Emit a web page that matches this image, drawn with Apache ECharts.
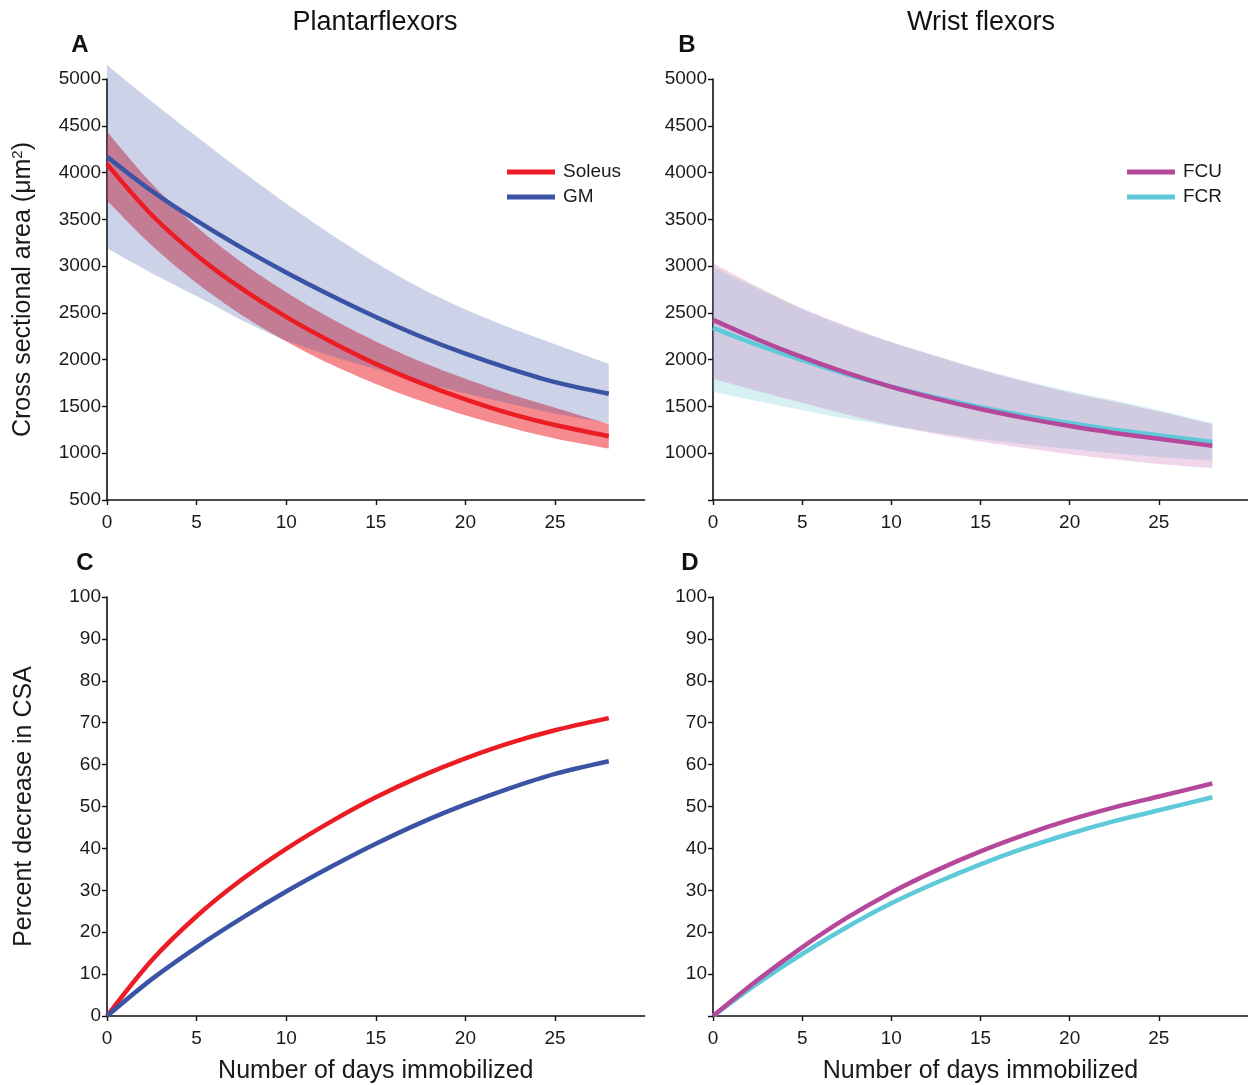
<!DOCTYPE html>
<html>
<head>
<meta charset="utf-8">
<script src="https://cdn.jsdelivr.net/npm/echarts@6/dist/echarts.min.js"></script>
<style>
  html, body { margin: 0; padding: 0; background: #ffffff; }
  #chart { width: 1248px; height: 1085px; }
</style>
</head>
<body>
<div id="chart"></div>
<script>
// ---- Data ----
const days = [0, 2.5, 5, 7.5, 10, 12.5, 15, 17.5, 20, 22.5, 25, 28];
const xTicks = [0, 5, 10, 15, 20, 25];

// Panel A: Plantarflexors CSA (µm²)
const soleusCSA   = [4090, 3546, 3117, 2761, 2458, 2192, 1955, 1751, 1575, 1423, 1301, 1182];
const soleusUpper = [4440, 3880, 3420, 3040, 2720, 2440, 2195, 1980, 1795, 1630, 1485, 1310];
const soleusLower = [3700, 3220, 2820, 2480, 2195, 1950, 1740, 1560, 1405, 1272, 1158, 1050];
const gmCSA       = [4170, 3803, 3486, 3198, 2932, 2685, 2456, 2248, 2064, 1902, 1760, 1635];
const gmUpper     = [5150, 4760, 4385, 4020, 3670, 3340, 3035, 2765, 2535, 2340, 2165, 1955];
const gmLower     = [3190, 2925, 2680, 2425, 2205, 2040, 1900, 1765, 1640, 1528, 1425, 1320];

// Panel B: Wrist flexors CSA (µm²)
const fcuCSA   = [2425, 2216, 2027, 1858, 1710, 1584, 1472, 1375, 1290, 1217, 1154, 1079];
const fcuUpper = [3030, 2780, 2550, 2360, 2190, 2040, 1895, 1765, 1650, 1550, 1445, 1310];
const fcuLower = [1800, 1665, 1540, 1415, 1300, 1205, 1125, 1055, 990, 935, 885, 840];
const fcrCSA   = [2340, 2157, 1994, 1844, 1711, 1596, 1493, 1402, 1322, 1252, 1191, 1120];
const fcrUpper = [2990, 2760, 2540, 2350, 2185, 2040, 1900, 1775, 1665, 1565, 1460, 1325];
const fcrLower = [1660, 1555, 1460, 1370, 1290, 1220, 1155, 1095, 1045, 1000, 960, 920];

// Panel C / D: percent decrease in CSA
const soleusPct = [0, 13.3, 23.8, 32.5, 39.9, 46.4, 52.2, 57.2, 61.5, 65.2, 68.2, 71.1];
const gmPct     = [0, 8.8, 16.4, 23.3, 29.7, 35.6, 41.1, 46.1, 50.5, 54.4, 57.8, 60.8];
const fcuPct    = [0, 8.6, 16.4, 23.4, 29.5, 34.7, 39.3, 43.3, 46.8, 49.8, 52.4, 55.5];
const fcrPct    = [0, 7.8, 14.8, 21.2, 26.9, 31.8, 36.2, 40.1, 43.5, 46.5, 49.1, 52.2];

// ---- Styles ----
const FONT = "'Liberation Sans', Arial, Helvetica, sans-serif";
const C_SOL = '#ec1c24', C_GM = '#3a53a4', C_FCU = '#b5489b', C_FCR = '#5ec9d9';
const SMOOTH = 0.3;

function pairs(ys) { return days.map((d, i) => [d, ys[i]]); }
// band rows are stored as [value, day] so the stacked dimension is the value (y) one
function rowsYX(ys) { return days.map((d, i) => [ys[i], d]); }
function rowsDiffYX(up, lo) { return days.map((d, i) => [up[i] - lo[i], d]); }

function lineSeries(name, ys, color, idx) {
  return {
    name: name, type: 'line', xAxisIndex: idx, yAxisIndex: idx, clip: false,
    data: pairs(ys), smooth: SMOOTH, showSymbol: false, symbol: 'none',
    color: color, lineStyle: { color: color, width: 4.5 }, z: 5, silent: true
  };
}
function bandSeries(key, lo, up, color, idx) {
  return [
    { name: key + '_lo', type: 'line', xAxisIndex: idx, yAxisIndex: idx, stack: key, clip: false,
      encode: { x: 1, y: 0 },
      data: rowsYX(lo), smooth: SMOOTH, symbol: 'none', lineStyle: { opacity: 0, width: 0 }, silent: true, z: 2 },
    { name: key + '_band', type: 'line', xAxisIndex: idx, yAxisIndex: idx, stack: key, clip: false,
      encode: { x: 1, y: 0 },
      data: rowsDiffYX(up, lo), smooth: SMOOTH, symbol: 'none', lineStyle: { opacity: 0, width: 0 },
      areaStyle: { color: color, opacity: 1 }, silent: true, z: 2 }
  ];
}

const grids = [
  { left: 107, top: 79, width: 537.6, height: 421 },
  { left: 713, top: 79, width: 537.6, height: 421 },
  { left: 107, top: 597, width: 537.6, height: 420 },
  { left: 713, top: 597, width: 537.6, height: 420 }
];

const axisLine = { show: true, lineStyle: { color: '#111', width: 1.6 } };
const axisTick = { show: true, length: 5, lineStyle: { color: '#111', width: 1.4 } };
const labelStyle = { color: '#1a1a1a', fontFamily: FONT, fontSize: 19 };

function xAxis(idx, withName) {
  const ax = {
    type: 'value', gridIndex: idx, min: 0, max: 30, interval: 5,
    axisLine: axisLine, splitLine: { show: false },
    axisTick: Object.assign({}, axisTick, { customValues: xTicks }),
    axisLabel: Object.assign({}, labelStyle, { margin: 13, customValues: xTicks,
      formatter: v => (v >= 30 ? '' : String(v)) })
  };
  if (withName) {
    ax.name = 'Number of days immobilized';
    ax.nameLocation = 'middle';
    ax.nameGap = 43;
    ax.nameTextStyle = { fontFamily: FONT, fontSize: 25, color: '#1a1a1a' };
  }
  return ax;
}
function yAxis(idx, min, max, interval, hideMin, name) {
  const ax = {
    type: 'value', gridIndex: idx, min: min, max: max, interval: interval,
    axisLine: axisLine, splitLine: { show: false }, axisTick: axisTick,
    axisLabel: Object.assign({}, labelStyle, { margin: 6,
      formatter: v => (hideMin && v === min ? '' : String(v)) })
  };
  if (name) {
    ax.name = name;
    ax.nameLocation = 'middle';
    ax.nameGap = 70;
    ax.nameTextStyle = { fontFamily: FONT, fontSize: 25, color: '#1a1a1a',
      rich: { sup: { fontFamily: FONT, fontSize: 15, color: '#1a1a1a', verticalAlign: 'top', padding: [0, 0, 12, 0] } } };
  }
  return ax;
}

const series = [].concat(
  // Panel A (red band under blue band, lines on top)
  bandSeries('sol', soleusLower, soleusUpper, 'rgba(236,30,40,0.52)', 0),
  bandSeries('gm', gmLower, gmUpper, 'rgba(58,83,164,0.26)', 0),
  [lineSeries('Soleus', soleusCSA, C_SOL, 0), lineSeries('GM', gmCSA, C_GM, 0)],
  // Panel B
  bandSeries('fcr', fcrLower, fcrUpper, 'rgba(110,200,215,0.28)', 1),
  bandSeries('fcu', fcuLower, fcuUpper, 'rgba(190,90,170,0.25)', 1),
  [lineSeries('FCR', fcrCSA, C_FCR, 1), lineSeries('FCU', fcuCSA, C_FCU, 1)],
  // Panel C
  [lineSeries('Soleus %', soleusPct, C_SOL, 2), lineSeries('GM %', gmPct, C_GM, 2)],
  // Panel D
  [lineSeries('FCR %', fcrPct, C_FCR, 3), lineSeries('FCU %', fcuPct, C_FCU, 3)]
);

const legendBase = {
  orient: 'vertical', icon: 'rect', itemWidth: 48, itemHeight: 5, itemGap: 5,
  textStyle: { fontFamily: FONT, fontSize: 19, color: '#1a1a1a', lineHeight: 20, padding: [0, 0, 0, 3] },
  selectedMode: false
};

const option = {
  backgroundColor: '#ffffff',
  animation: false,
  grid: grids,
  xAxis: [xAxis(0, false), xAxis(1, false), xAxis(2, true), xAxis(3, true)],
  yAxis: [
    yAxis(0, 500, 5000, 500, false, 'Cross sectional area (μm{sup|2})'),
    yAxis(1, 500, 5000, 500, true, null),
    yAxis(2, 0, 100, 10, false, 'Percent decrease in CSA'),
    yAxis(3, 0, 100, 10, true, null)
  ],
  legend: [
    Object.assign({}, legendBase, { left: 502, top: 157, data: ['Soleus', 'GM'] }),
    Object.assign({}, legendBase, { left: 1122, top: 157, data: ['FCU', 'FCR'] })
  ],
  graphic: [
    { type: 'text', x: 375, y: 23, style: { text: 'Plantarflexors', font: '27px ' + FONT, fill: '#111', textAlign: 'center', textVerticalAlign: 'middle' } },
    { type: 'text', x: 981, y: 23, style: { text: 'Wrist flexors', font: '27px ' + FONT, fill: '#111', textAlign: 'center', textVerticalAlign: 'middle' } },
    { type: 'text', x: 80, y: 45, style: { text: 'A', font: 'bold 24px ' + FONT, fill: '#111', textAlign: 'center', textVerticalAlign: 'middle' } },
    { type: 'text', x: 687, y: 45, style: { text: 'B', font: 'bold 24px ' + FONT, fill: '#111', textAlign: 'center', textVerticalAlign: 'middle' } },
    { type: 'text', x: 85, y: 563, style: { text: 'C', font: 'bold 24px ' + FONT, fill: '#111', textAlign: 'center', textVerticalAlign: 'middle' } },
    { type: 'text', x: 690, y: 563, style: { text: 'D', font: 'bold 24px ' + FONT, fill: '#111', textAlign: 'center', textVerticalAlign: 'middle' } }
  ],
  series: series
};

const chart = echarts.init(document.getElementById('chart'), null, { renderer: 'canvas' });
chart.setOption(option);
</script>
</body>
</html>
